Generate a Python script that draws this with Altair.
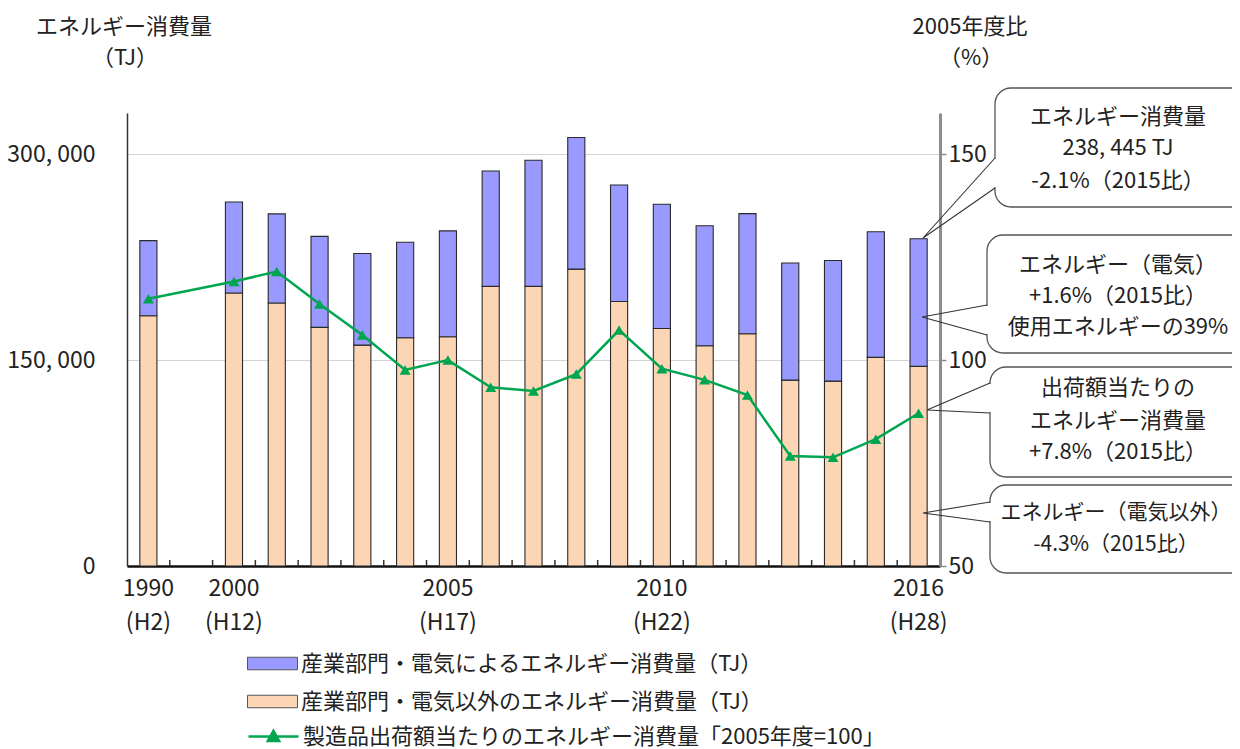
import altair as alt
import pandas as pd

# ---------------- data ----------------
YEARS = ["1990", "2000", "2001", "2002", "2003", "2004", "2005", "2006", "2007",
         "2008", "2009", "2010", "2011", "2012", "2013", "2014", "2015", "2016"]
CATEGORIES = ["1990", "gap"] + YEARS[1:]
NON_ELEC = [182300, 198900, 191600, 173800, 160900, 166300, 167000, 203700, 203700,
            216300, 192700, 173000, 160400, 169200, 135400, 134700, 152000, 145445]
ELEC = [54700, 66300, 64900, 66300, 66800, 69500, 77100, 84100, 91900,
        95800, 84900, 90500, 87500, 87500, 85300, 87900, 91500, 93000]
INDEX = [114.9, 119.1, 121.5, 113.6, 106.1, 97.6, 100.0, 93.4, 92.5,
         96.6, 107.3, 97.9, 95.2, 91.5, 76.7, 76.4, 80.8, 87.1]
TICK_YEARS = ["1990", "2000", "2005", "2010", "2016"]
TICK_ERAS = ["(H2)", "(H12)", "(H17)", "(H22)", "(H28)"]

SERIES_ELEC = "産業部門・電気によるエネルギー消費量（TJ）"
SERIES_NON = "産業部門・電気以外のエネルギー消費量（TJ）"
SERIES_LINE = "製造品出荷額当たりのエネルギー消費量「2005年度=100」"

LEFT_TITLE = ["エネルギー消費量", "（TJ）"]
RIGHT_TITLE = ["2005年度比", "（%）"]
CALLOUT_TEXT = [
    ["エネルギー消費量", "238, 445 TJ", "-2.1%（2015比）"],
    ["エネルギー（電気）", "+1.6%（2015比）", "使用エネルギーの39%"],
    ["出荷額当たりの", "エネルギー消費量", "+7.8%（2015比）"],
    ["エネルギー（電気以外）", "-4.3%（2015比）"],
]

# ---------------- layout / style ----------------
OX, OY = 127, 113          # page position of plot origin
PW, PH = 813, 453          # plot size
STEP = PW / len(CATEGORIES)
BLUE, ORANGE, GREEN = "#9999FF", "#FCD5B4", "#00A550"
JP = "Noto Sans CJK JP"
NUM = "'Liberation Sans Narrow', 'Noto Sans CJK JP', sans-serif"

# callout geometry (page coords): box (x1,y1,x2,y2), tail (attach_y1, attach_y2, tx, ty)
CALLOUT_BOX = [(995, 88, 1262, 207), (987, 235, 1262, 353),
               (990, 367, 1262, 477), (990, 485, 1262, 573)]
CALLOUT_TAIL = [(158, 188, 923, 238), (305, 335, 922, 317),
                (383, 413, 927, 410), (502, 522, 923, 513)]
CALLOUT_LINE_Y = [[117, 148, 181], [265, 296, 327], [388, 421, 452], [513, 545]]
CALLOUT_CX = [1118, 1118, 1118, 1116]
CALLOUT_FS = [22, 22, 22, 21]
TITLE_POS = [(124, 27), (125, 58), (970, 27), (971, 58)]

# ---------------- tables ----------------
rows = []
for y, e, n in zip(YEARS, ELEC, NON_ELEC):
    rows.append({"cat": y, "series": SERIES_NON, "value": n, "ord": 0})
    rows.append({"cat": y, "series": SERIES_ELEC, "value": e, "ord": 1})
bars_df = pd.DataFrame(rows)
line_df = pd.DataFrame({"cat": YEARS, "index": INDEX, "series": SERIES_LINE})
tick_df = pd.DataFrame({"cat": CATEGORIES[:-1]})

box_df = pd.DataFrame([{"x": a - OX, "y": b - OY, "x2": c - OX, "y2": d - OY}
                       for a, b, c, d in CALLOUT_BOX])
cover_df = pd.DataFrame([{"x": CALLOUT_BOX[i][0] - OX, "y": t[0] - OY + 1, "y2": t[1] - OY - 1}
                         for i, t in enumerate(CALLOUT_TAIL)])
tail_rows = []
for i, t in enumerate(CALLOUT_TAIL):
    bx = CALLOUT_BOX[i][0]
    for k, (px, py) in enumerate([(bx, t[0]), (t[2], t[3]), (bx, t[1])]):
        tail_rows.append({"id": i, "k": k, "x": px - OX, "y": py - OY})
tail_df = pd.DataFrame(tail_rows)
text_rows = []
for lines, ys, cx, fs in zip(CALLOUT_TEXT, CALLOUT_LINE_Y, CALLOUT_CX, CALLOUT_FS):
    for s, yy in zip(lines, ys):
        text_rows.append({"t": s, "x": cx - OX, "y": yy - OY, "fs": fs})
text_df = pd.DataFrame(text_rows)
title_df = pd.DataFrame([{"t": s, "x": p[0] - OX, "y": p[1] - OY}
                         for s, p in zip(LEFT_TITLE + RIGHT_TITLE, TITLE_POS)])

# ---------------- chart ----------------
x_scale = alt.Scale(domain=CATEGORIES, paddingInner=0.6, paddingOuter=0.3)
label_expr = ""
for yv, er in zip(TICK_YEARS, TICK_ERAS):
    label_expr += f"datum.value == '{yv}' ? ['{yv}', '{er}'] : "
label_expr += "''"

bars = alt.Chart(bars_df).mark_bar(stroke="#2a2a2a", strokeWidth=1.1).encode(
    x=alt.X("cat:N", scale=x_scale, sort=CATEGORIES, title=None,
            axis=alt.Axis(labelExpr=label_expr, labelAngle=0, ticks=False, domainColor="#111111",
                          domainWidth=2.5, labelFont=NUM, labelFontSize=23, labelColor="#222222",
                          labelPadding=11, labelLineHeight=34, labelBaseline="top",
                          labelOverlap=False, labelBound=False)),
    y=alt.Y("value:Q", stack="zero", title=None,
            scale=alt.Scale(domain=[0, 330000], nice=False),
            axis=alt.Axis(values=[0, 150000, 300000], grid=True, gridColor="#d4d4d4",
                          ticks=False, domainColor="#333333", domainWidth=1.5,
                          labelExpr="replace(format(datum.value, ','), ',', ', ')",
                          labelFont=NUM, labelFontSize=23, labelColor="#222222", labelPadding=32)),
    color=alt.Color("series:N", title=None,
                    scale=alt.Scale(domain=[SERIES_ELEC, SERIES_NON], range=[BLUE, ORANGE]),
                    legend=alt.Legend(orient="none", legendX=132.5, legendY=537.5, padding=0,
                                      symbolType="M-2,-0.5H2V0.5H-2Z", symbolSize=625,
                                      symbolStrokeColor="#555555", symbolStrokeWidth=1,
                                      labelOffset=15.5, labelFont=JP, labelFontSize=22,
                                      labelColor="#222222", labelLimit=800, rowPadding=14)),
    order=alt.Order("ord:Q", sort="ascending"),
)

ticks = alt.Chart(tick_df).mark_rule(color="#333333", strokeWidth=1.5, xOffset=STEP / 2).encode(
    x=alt.X("cat:N", scale=x_scale, sort=CATEGORIES, axis=None),
    y=alt.value(PH), y2=alt.value(PH - 6),
)

line = alt.Chart(line_df).mark_line(
    strokeWidth=2.5,
    point=alt.OverlayMarkDef(shape="triangle-up", size=120, filled=True, opacity=1),
).encode(
    x=alt.X("cat:N", scale=x_scale, sort=CATEGORIES, axis=None),
    y=alt.Y("index:Q", title=None, scale=alt.Scale(domain=[50, 160], nice=False, zero=False),
            axis=alt.Axis(orient="right", values=[50, 100, 150], grid=False, domainColor="#8c8c8c",
                          domainWidth=3, tickColor="#8c8c8c", tickSize=6, tickWidth=1.5,
                          labelFont=NUM, labelFontSize=23, labelColor="#222222", labelPadding=2)),
    color=alt.Color("series:N", title=None,
                    scale=alt.Scale(domain=[SERIES_LINE], range=[GREEN]),
                    legend=alt.Legend(orient="none", legendX=132.5, legendY=609.5, padding=0,
                                      symbolType="M-2,0H2M-0.45,0.35L0,-0.45L0.45,0.35Z",
                                      symbolSize=625, symbolStrokeColor=GREEN,
                                      symbolFillColor=GREEN, symbolStrokeWidth=2.5,
                                      labelOffset=15.5, labelFont=JP, labelFontSize=22,
                                      labelColor="#222222", labelLimit=800)),
)

ident_x = alt.X("x:Q", scale=None, axis=None)
ident_y = alt.Y("y:Q", scale=None, axis=None)

boxes = alt.Chart(box_df).mark_rect(fill="white", stroke="#555555", strokeWidth=1.3,
                                    cornerRadius=16).encode(
    x=ident_x, y=ident_y, x2="x2:Q", y2="y2:Q")
covers = alt.Chart(cover_df).mark_rule(color="white", strokeWidth=3).encode(
    x=ident_x, y=ident_y, y2="y2:Q")
tails = alt.Chart(tail_df).mark_line(color="#333333", strokeWidth=1.1).encode(
    x=ident_x, y=ident_y, detail="id:N", order="k:Q")
texts = alt.Chart(text_df).mark_text(font=JP, color="#222222",
                                     align="center", baseline="middle").encode(
    x=ident_x, y=ident_y, text="t:N", size=alt.Size("fs:Q", scale=None, legend=None))
titles = alt.Chart(title_df).mark_text(font=JP, fontSize=22, color="#222222",
                                       align="center", baseline="middle").encode(
    x=ident_x, y=ident_y, text="t:N")

chart = alt.layer(bars, ticks, line, boxes, covers, tails, texts, titles).resolve_scale(
    x="independent", y="independent", color="independent", size="independent"
).properties(
    width=PW, height=PH,
    autosize=alt.AutoSizeParams(type="none"),
    padding={"left": OX - 8, "top": OY - 8, "right": 1224 - (OX - 8) - PW, "bottom": 741 - (OY - 8) - PH},
    background="white",
).configure_view(stroke=None)

chart.save("out.html", embed_options={"renderer": "svg", "actions": False})
